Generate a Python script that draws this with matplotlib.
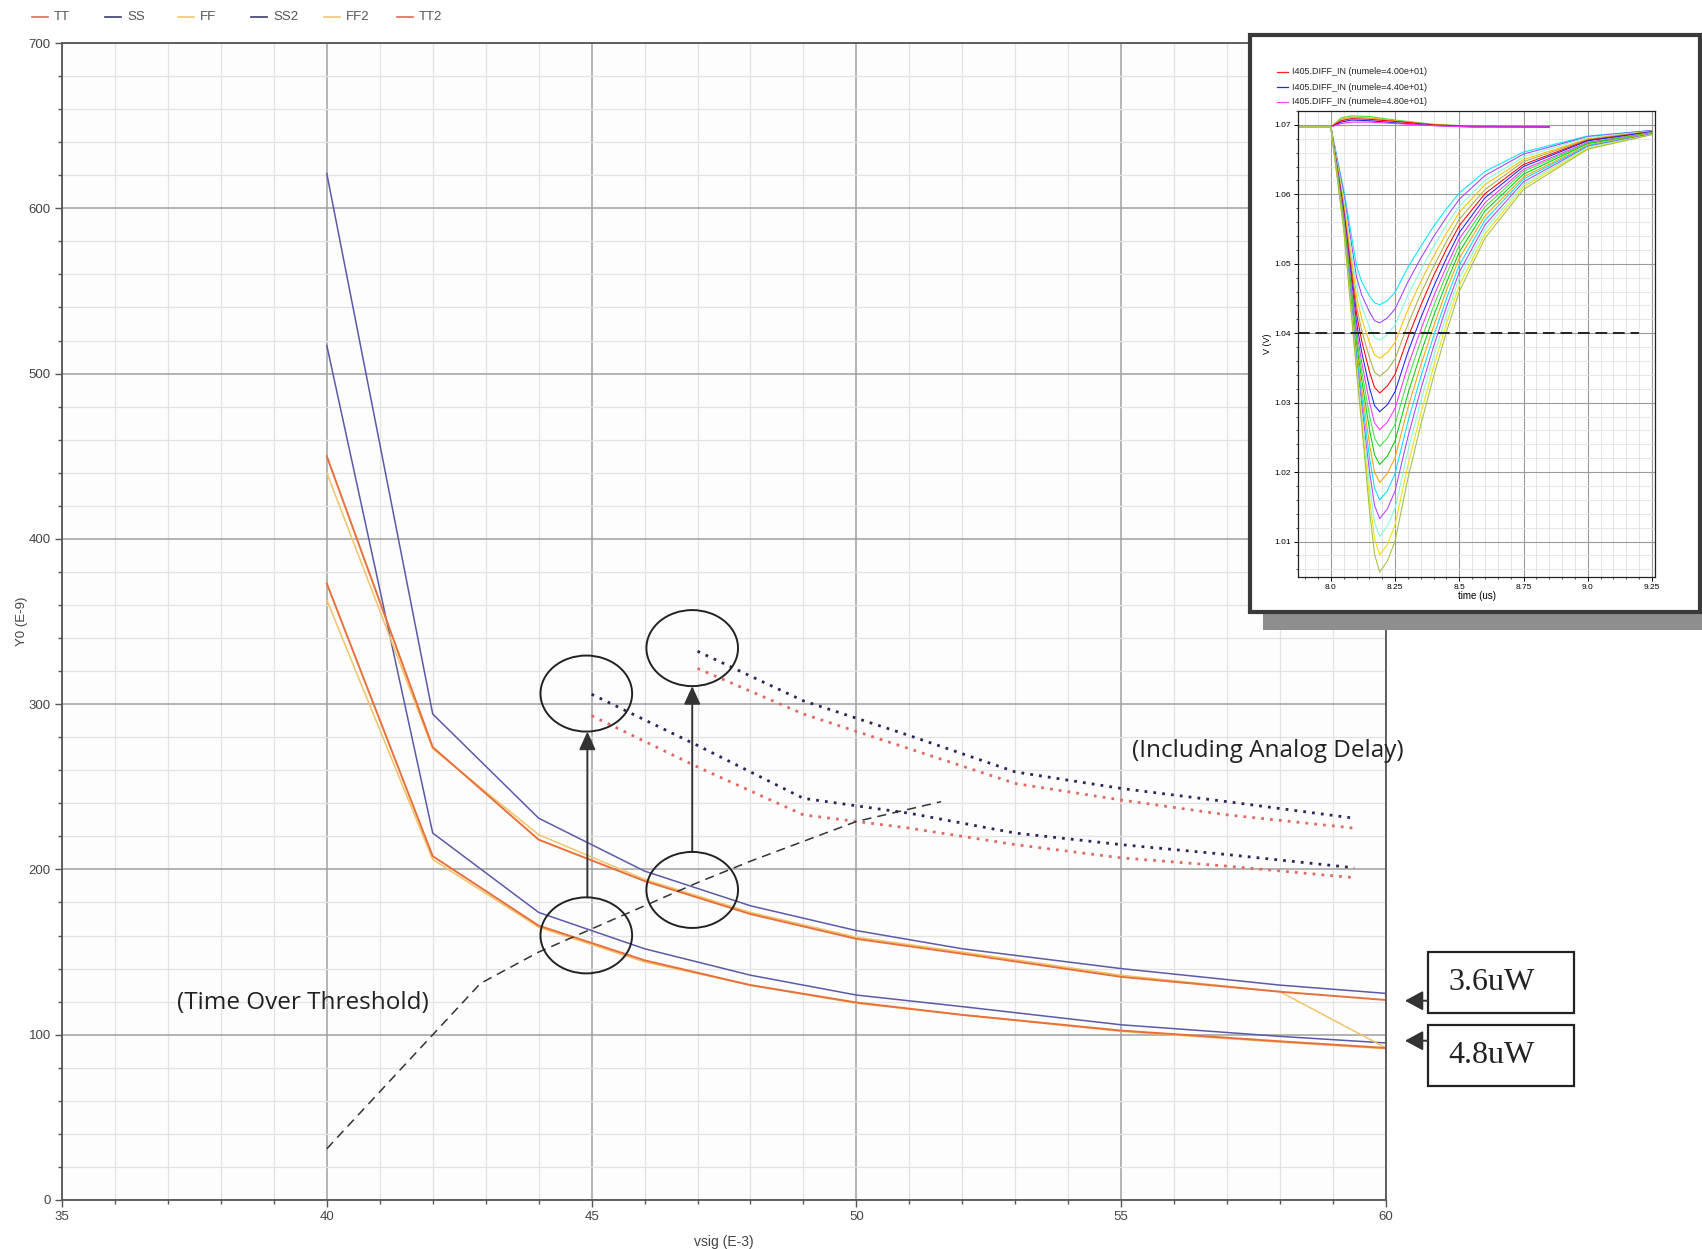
import matplotlib.pyplot as plt
from matplotlib.patches import Ellipse, Rectangle, FancyArrowPatch
from matplotlib.lines import Line2D
from matplotlib.ticker import MultipleLocator

W, H = 1702, 1249

# --- main chart: Y0 (E-9) vs vsig (E-3) ---
vsig = [40, 42, 44, 46, 48, 50, 52, 55, 58, 60]
tt = [450, 274, 218, 193, 173, 158, 149, 135, 126, 121]
ss = [621, 294, 231, 199, 178, 163, 152, 140, 130, 125]
ff = [440, 273, 221, 194, 174, 159, 150, 136, 126, 92]
ss2 = [517, 222, 174, 152, 136, 124, 117, 106, 99, 95]
ff2 = [363, 206, 165, 144, 130, 119, 112, 102, 95.5, 91.5]
tt2 = [373, 208, 166, 145, 130, 119.5, 112, 102.5, 96, 92]

# analog delay included (dotted)
dly_x_a = [45, 47, 49, 51, 53, 55, 57, 59.4]
dly_ss_a = [306, 275, 243, 234, 222, 215, 209, 201]
dly_tt_a = [293, 262, 233, 225, 215, 207, 202, 195]
dly_x_b = [47, 49, 51, 53, 55, 57, 59.4]
dly_ss_b = [332, 302, 281, 259, 249, 241, 231]
dly_tt_b = [321.6, 294, 273, 252, 242, 233, 225]

# time over threshold (dashed)
tot_x = [40, 42.9, 44, 45, 46, 47, 48, 49, 50, 51.6]
tot_y = [31, 131, 150, 164, 178, 192, 205, 217, 229, 241]

legend_names = ["TT", "SS", "FF", "SS2", "FF2", "TT2"]

# --- inset: I405.DIFF_IN transients ---
t_us = [7.872, 8.0, 8.05, 8.1, 8.12, 8.15, 8.17, 8.19, 8.22, 8.25, 8.3, 8.35, 8.4, 8.45,
        8.5, 8.6, 8.75, 9.0, 9.25]
v_base = 1.0697
dip_rows = [
    [1.0607, 1.0497, 1.0474, 1.0454, 1.0444, 1.0441, 1.0447, 1.0459, 1.0495, 1.0525, 1.0554, 1.0579, 1.0602, 1.0633, 1.0661, 1.0684, 1.0692],
    [1.0601, 1.0481, 1.0455, 1.0431, 1.0418, 1.0415, 1.0422, 1.0435, 1.0474, 1.0508, 1.0539, 1.0567, 1.0593, 1.0627, 1.0658, 1.0683, 1.0692],
    [1.0595, 1.0467, 1.0438, 1.0409, 1.0394, 1.0390, 1.0398, 1.0412, 1.0455, 1.0491, 1.0525, 1.0556, 1.0583, 1.0620, 1.0654, 1.0682, 1.0691],
    [1.0588, 1.0453, 1.0421, 1.0387, 1.0369, 1.0364, 1.0372, 1.0387, 1.0434, 1.0474, 1.0511, 1.0544, 1.0574, 1.0614, 1.0650, 1.0680, 1.0691],
    [1.0583, 1.0439, 1.0404, 1.0365, 1.0344, 1.0338, 1.0347, 1.0363, 1.0413, 1.0457, 1.0496, 1.0532, 1.0564, 1.0607, 1.0647, 1.0679, 1.0691],
    [1.0578, 1.0428, 1.0389, 1.0345, 1.0322, 1.0314, 1.0324, 1.0341, 1.0394, 1.0440, 1.0483, 1.0521, 1.0555, 1.0601, 1.0643, 1.0678, 1.0690],
    [1.0573, 1.0415, 1.0373, 1.0322, 1.0296, 1.0287, 1.0297, 1.0316, 1.0373, 1.0422, 1.0467, 1.0508, 1.0545, 1.0595, 1.0640, 1.0677, 1.0690],
    [1.0569, 1.0404, 1.0358, 1.0301, 1.0271, 1.0261, 1.0272, 1.0292, 1.0353, 1.0405, 1.0453, 1.0496, 1.0536, 1.0588, 1.0636, 1.0675, 1.0689],
    [1.0565, 1.0395, 1.0346, 1.0282, 1.0249, 1.0237, 1.0249, 1.0269, 1.0334, 1.0389, 1.0439, 1.0485, 1.0527, 1.0582, 1.0633, 1.0674, 1.0689],
    [1.0562, 1.0385, 1.0333, 1.0262, 1.0225, 1.0211, 1.0223, 1.0245, 1.0313, 1.0371, 1.0425, 1.0473, 1.0517, 1.0576, 1.0629, 1.0673, 1.0688],
    [1.0559, 1.0376, 1.0320, 1.0241, 1.0200, 1.0185, 1.0198, 1.0221, 1.0293, 1.0354, 1.0410, 1.0462, 1.0508, 1.0569, 1.0625, 1.0671, 1.0688],
    [1.0556, 1.0369, 1.0309, 1.0222, 1.0177, 1.0160, 1.0173, 1.0198, 1.0273, 1.0337, 1.0396, 1.0450, 1.0498, 1.0563, 1.0622, 1.0670, 1.0687],
    [1.0554, 1.0361, 1.0297, 1.0202, 1.0152, 1.0133, 1.0147, 1.0173, 1.0251, 1.0319, 1.0381, 1.0438, 1.0488, 1.0556, 1.0618, 1.0669, 1.0687],
    [1.0552, 1.0354, 1.0286, 1.0183, 1.0128, 1.0107, 1.0122, 1.0148, 1.0231, 1.0302, 1.0367, 1.0426, 1.0479, 1.0550, 1.0614, 1.0668, 1.0686],
    [1.0550, 1.0349, 1.0276, 1.0164, 1.0104, 1.0081, 1.0096, 1.0124, 1.0210, 1.0284, 1.0352, 1.0414, 1.0469, 1.0543, 1.0611, 1.0666, 1.0686],
    [1.0550, 1.0344, 1.0268, 1.0146, 1.0082, 1.0056, 1.0072, 1.0101, 1.0191, 1.0268, 1.0338, 1.0402, 1.0460, 1.0537, 1.0607, 1.0665, 1.0686],
]
dip_colors = ["#00e8ff", "#a040ff", "#80ffe0", "#ffc000", "#a8b040", "#ff0000", "#2020ff", "#ff30ff",
              "#40e040", "#00d000", "#ffa000", "#00e0ff", "#b040ff", "#80ffd0", "#f0e000", "#a0c040"]

t_ov = [7.872, 8.0, 8.04, 8.08, 8.15, 8.25, 8.4, 8.55, 8.85]
ov_rows = [
    [1.0697, 1.0697, 1.0710, 1.0713, 1.0712, 1.0707, 1.0701, 1.0698, 1.0697],
    [1.0697, 1.0697, 1.0708, 1.0711, 1.0710, 1.0706, 1.0700, 1.0698, 1.0697],
    [1.0697, 1.0697, 1.0706, 1.0709, 1.0708, 1.0705, 1.0700, 1.0698, 1.0697],
    [1.0697, 1.0697, 1.0704, 1.0707, 1.0706, 1.0703, 1.0699, 1.0697, 1.0697],
    [1.0697, 1.0697, 1.0702, 1.0704, 1.0704, 1.0702, 1.0699, 1.0697, 1.0697],
]
ov_colors = ["#40e040", "#ffa000", "#ff0000", "#2020ff", "#ff30ff"]
threshold = 1.040

inset_labels = ["I405.DIFF_IN (numele=4.00e+01)", "I405.DIFF_IN (numele=4.40e+01)",
                "I405.DIFF_IN (numele=4.80e+01)"]
inset_label_colors = ["#ff2020", "#2020ff", "#ff40ff"]

C_TT = "#e8703a"
C_SS = "#5a5aa8"
C_FF = "#f0c46a"
C_NAVY = "#26285a"
C_RED = "#e06a60"
GRID_MAJ = "#a0a0a0"
GRID_MIN = "#e3e3e3"


def fx(px):
    return px / W


def fy(py):
    return 1 - py / H


plt.rcParams["font.family"] = ["Liberation Sans", "DejaVu Sans"]

fig = plt.figure(figsize=(W / 100, H / 100), dpi=100)
fig.patch.set_facecolor("white")

ax = fig.add_axes([fx(62), fy(1200), fx(1386) - fx(62), fy(43) - fy(1200)])
ax.set_facecolor("#fdfdfe")
ax.set_xlim(35, 60)
ax.set_ylim(0, 700)
ax.xaxis.set_major_locator(MultipleLocator(5))
ax.xaxis.set_minor_locator(MultipleLocator(1))
ax.yaxis.set_major_locator(MultipleLocator(100))
ax.yaxis.set_minor_locator(MultipleLocator(20))
ax.grid(which="major", color=GRID_MAJ, lw=1.1)
ax.grid(which="minor", color=GRID_MIN, lw=0.9)
ax.set_axisbelow(True)
for s in ax.spines.values():
    s.set_color("#555555")
    s.set_linewidth(1.3)
ax.tick_params(which="major", length=5, width=1, color="#555555", labelsize=9.5,
               labelcolor="#444444", pad=3)
ax.tick_params(which="minor", length=3, width=1, color="#555555")
ax.set_xlabel("vsig (E-3)", fontsize=10, color="#444444")
ax.xaxis.set_label_coords(0.5, -0.03)
ax.set_ylabel("Y0 (E-9)", fontsize=9.5, color="#444444")
ax.yaxis.set_label_coords(-0.026, 0.5)

lw = 1.1
ax.plot(vsig, ss, color=C_SS, lw=lw)
ax.plot(vsig, ss2, color=C_SS, lw=lw)
ax.plot(vsig, ff, color=C_FF, lw=lw)
ax.plot(vsig, ff2, color=C_FF, lw=lw)
ax.plot(vsig, tt, color=C_TT, lw=lw + 0.3)
ax.plot(vsig, tt2, color=C_TT, lw=lw + 0.3)

dots = (0, (1, 2.2))
ax.plot(dly_x_a, dly_ss_a, color=C_NAVY, lw=2.0, ls=dots)
ax.plot(dly_x_a, dly_tt_a, color=C_RED, lw=2.0, ls=dots)
ax.plot(dly_x_b, dly_ss_b, color=C_NAVY, lw=2.0, ls=dots)
ax.plot(dly_x_b, dly_tt_b, color=C_RED, lw=2.0, ls=dots)

ax.plot(tot_x, tot_y, color="#333333", lw=1.1, ls=(0, (6, 4)))

# circles and arrows
for cx, cy in [(44.9, 306.4), (46.9, 333.9), (46.9, 187.6), (44.9, 160.1)]:
    ax.add_patch(Ellipse((cx, cy), 1.73, 46, fill=False, ec="#222222", lw=1.4, zorder=6))
for x0, y0, y1 in [(44.92, 183.1, 283.4), (46.9, 210.6, 310.9)]:
    ax.annotate("", xy=(x0, y1), xytext=(x0, y0),
                arrowprops=dict(arrowstyle="-|>,head_length=0.55,head_width=0.25",
                                mutation_scale=20, color="#333333", lw=1.4, shrinkA=0, shrinkB=0))

fig.text(fx(1132), fy(751), "(Including Analog Delay)", fontsize=17.5, family="Open Sans",
         color="#222222", va="center", ha="left")
fig.text(fx(177), fy(1003), "(Time Over Threshold)", fontsize=17.5, family="Open Sans",
         color="#222222", va="center", ha="left")

# top legend
leg_colors = ["#e06a5a", "#3c3c6c", "#f0c870", "#3c3c6c", "#f0c870", "#e06a5a"]
for i, (name, col) in enumerate(zip(legend_names, leg_colors)):
    x0 = 32 + i * 73
    fig.add_artist(Line2D([fx(x0), fx(x0 + 16)], [fy(17), fy(17)], color=col, lw=1.2))
    fig.text(fx(x0 + 22), fy(17), name, fontsize=9.5, color="#555555", va="center")

# power boxes
for (top, bot, ay, label) in [(952, 1013, 1000.7, "3.6uW"), (1025, 1086, 1040.7, "4.8uW")]:
    fig.add_artist(Rectangle((fx(1428), fy(bot)), fx(1574) - fx(1428), fy(top) - fy(bot),
                             transform=fig.transFigure, fill=False, ec="#222222", lw=1.6))
    fig.text(fx(1492), fy((top + bot) / 2), label, fontsize=23, family="Liberation Serif",
             ha="center", va="center", color="#222222")
    fig.add_artist(FancyArrowPatch((fx(1428), fy(ay)), (fx(1405), fy(ay)), transform=fig.transFigure,
                                   arrowstyle="-|>,head_length=0.55,head_width=0.3",
                                   mutation_scale=20, color="#333333", lw=1.4,
                                   shrinkA=0, shrinkB=0))

# inset frame with shadow
fig.add_artist(Rectangle((fx(1263), fy(630)), fx(1702) - fx(1263), fy(612) - fy(630),
                         transform=fig.transFigure, fc="#8e8e8e", ec="none", zorder=2))
fig.add_artist(Rectangle((fx(1250), fy(612)), fx(1700) - fx(1250), fy(35) - fy(612),
                         transform=fig.transFigure, fc="white", ec="#3a3a3a", lw=3, zorder=2))

ins = fig.add_axes([fx(1298), fy(577), fx(1655) - fx(1298), fy(111) - fy(577)], zorder=5)
ins.set_facecolor("white")
ins.set_xlim(7.872, 9.262)
ins.set_ylim(1.0049, 1.0720)
ins.xaxis.set_minor_locator(MultipleLocator(0.05))
ins.yaxis.set_minor_locator(MultipleLocator(0.002))
ins.set_xticks([8.0, 8.25, 8.5, 8.75, 9.0, 9.25])
ins.set_xticklabels(["8.0", "8.25", "8.5", "8.75", "9.0", "9.25"])
ins.set_yticks([1.01, 1.02, 1.03, 1.04, 1.05, 1.06, 1.07])
ins.set_yticklabels(["1.01", "1.02", "1.03", "1.04", "1.05", "1.06", "1.07"])
ins.grid(which="major", color="#9a9a9a", lw=0.8)
ins.grid(which="minor", color="#e0e0e0", lw=0.6)
ins.set_axisbelow(True)
for s in ins.spines.values():
    s.set_color("#222222")
    s.set_linewidth(0.9)
ins.tick_params(which="major", length=3, width=0.7, labelsize=6, pad=2)
ins.tick_params(which="minor", length=1.5, width=0.5)
ins.set_xlabel("time (us)", fontsize=7, labelpad=0)
ins.set_ylabel("V (V)", fontsize=6.5, labelpad=2)

for row, col in zip(ov_rows, ov_colors):
    ins.plot(t_ov, row, color=col, lw=0.8)
for row, col in zip(dip_rows, dip_colors):
    ins.plot(t_us, [v_base, v_base] + row, color=col, lw=0.75)
ins.plot([7.872, 9.2], [threshold, threshold], color="#222222", lw=1.4, ls=(0, (6, 3)))

for i, (lab, col) in enumerate(zip(inset_labels, inset_label_colors)):
    y = 72 + i * 15
    fig.add_artist(Line2D([fx(1277), fx(1288)], [fy(y), fy(y)], color=col, lw=0.9, zorder=6))
    fig.text(fx(1292), fy(y), lab, fontsize=6.5, va="center", color="#222222", zorder=6)

fig.savefig("out.png", dpi=100)
